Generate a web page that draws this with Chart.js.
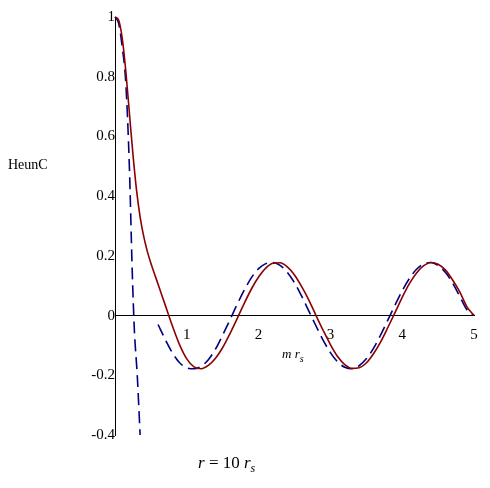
<!DOCTYPE html>
<html><head><meta charset="utf-8">
<script src="https://cdn.jsdelivr.net/npm/chart.js@4"></script>
<style>
body{margin:0;background:#fff;}
#w{position:relative;width:490px;height:488px;font-family:"Liberation Serif",serif;}
.t{position:absolute;font-size:15px;color:#000;}
</style></head><body>
<div id="w"><canvas id="c" width="490" height="488"></canvas>
<div class="t" style="left:8px;top:157px;font-size:14px">HeunC</div>
<div class="t" style="left:282px;top:346px;font-style:italic;font-size:13px">m r<sub style="font-size:10px">s</sub></div>
<div class="t" style="left:198px;top:453px;font-size:17px"><i>r</i> = 10 <i>r</i><sub style="font-size:12px"><i>s</i></sub></div>
</div>
<script>
const redX=[0,0.05,0.1,0.15,0.2,0.25,0.3,0.35,0.4,0.45,0.5,0.6,0.7,0.8,0.9,1.0,1.1,1.2,1.3,1.4,1.5,1.6,1.7,1.8,1.9,2.0,2.1,2.2,2.3,2.4,2.5,2.6,2.7,2.8,2.9,3.0,3.1,3.2,3.3,3.4,3.5,3.6,3.7,3.8,3.9,4.0,4.1,4.2,4.3,4.4,4.5,4.6,4.7,4.8,4.9,5.0];
const redY=[1,0.99,0.93,0.82,0.68,0.54,0.42,0.33,0.265,0.215,0.175,0.105,0.035,-0.035,-0.098,-0.145,-0.172,-0.178,-0.167,-0.143,-0.107,-0.061,-0.011,0.041,0.089,0.129,0.159,0.175,0.177,0.163,0.136,0.097,0.052,0.0,-0.05,-0.097,-0.137,-0.164,-0.177,-0.175,-0.159,-0.128,-0.088,-0.04,0.01,0.061,0.107,0.143,0.167,0.178,0.172,0.153,0.12,0.08,0.03,0.0];
const steepX=[0,0.05,0.1,0.15,0.2,0.24,0.27,0.31,0.35];
const steepY=[1,0.98,0.9,0.78,0.5,0.15,-0.05,-0.2,-0.4];
const oscX=[0.6,0.7,0.8,0.9,1.0,1.1,1.2,1.3,1.4,1.5,1.6,1.7,1.8,1.9,2.0,2.1,2.2,2.3,2.4,2.5,2.6,2.7,2.8,2.9,3.0,3.1,3.2,3.3,3.4,3.5,3.6,3.7,3.8,3.9,4.0,4.1,4.2,4.3,4.4,4.5,4.6,4.7,4.8,4.9,5.0];
const oscY=[-0.03,-0.08,-0.125,-0.158,-0.175,-0.178,-0.17,-0.148,-0.112,-0.065,-0.015,0.037,0.085,0.127,0.157,0.174,0.178,0.168,0.145,0.11,0.065,0.015,-0.035,-0.083,-0.124,-0.155,-0.173,-0.178,-0.168,-0.145,-0.11,-0.065,-0.015,0.035,0.083,0.124,0.155,0.173,0.178,0.168,0.145,0.11,0.065,0.02,0.0];
const xTicks=[1,2,3,4,5];
const yTicks=[-0.4,-0.2,0,0.2,0.4,0.6,0.8,1];
const pts=(xs,ys)=>xs.map((x,i)=>({x,y:ys[i]}));
const ds=(d,c,dash)=>({data:d,borderColor:c,borderWidth:1.6,borderDash:dash,showLine:true,pointRadius:0,cubicInterpolationMode:'monotone',fill:false});
new Chart(document.getElementById('c'),{type:'scatter',
data:{datasets:[ds(pts(redX,redY),'#8b0000',[]),ds(pts(steepX,steepY),'#000080',[12,6]),ds(pts(oscX,oscY),'#000080',[12,6])]},
options:{responsive:false,animation:false,clip:false,
layout:{padding:{left:115,right:16,top:16,bottom:53}},
plugins:{legend:{display:false},tooltip:{enabled:false}},
scales:{
x:{type:'linear',min:0,max:5,position:{y:0},grid:{display:false,drawTicks:true},border:{color:'#000'},
 afterBuildTicks:a=>{a.ticks=xTicks.map(v=>({value:v}));},
 ticks:{color:'#000',font:{family:'Liberation Serif',size:15},padding:2}},
y:{type:'linear',min:-0.4,max:1,position:{x:0},grid:{display:false},border:{color:'#000'},
 afterBuildTicks:a=>{a.ticks=yTicks.map(v=>({value:v}));},
 ticks:{color:'#000',font:{family:'Liberation Serif',size:15},padding:8,callback:v=>String(Math.round(v*10)/10)}}
}}});
</script></body></html>
